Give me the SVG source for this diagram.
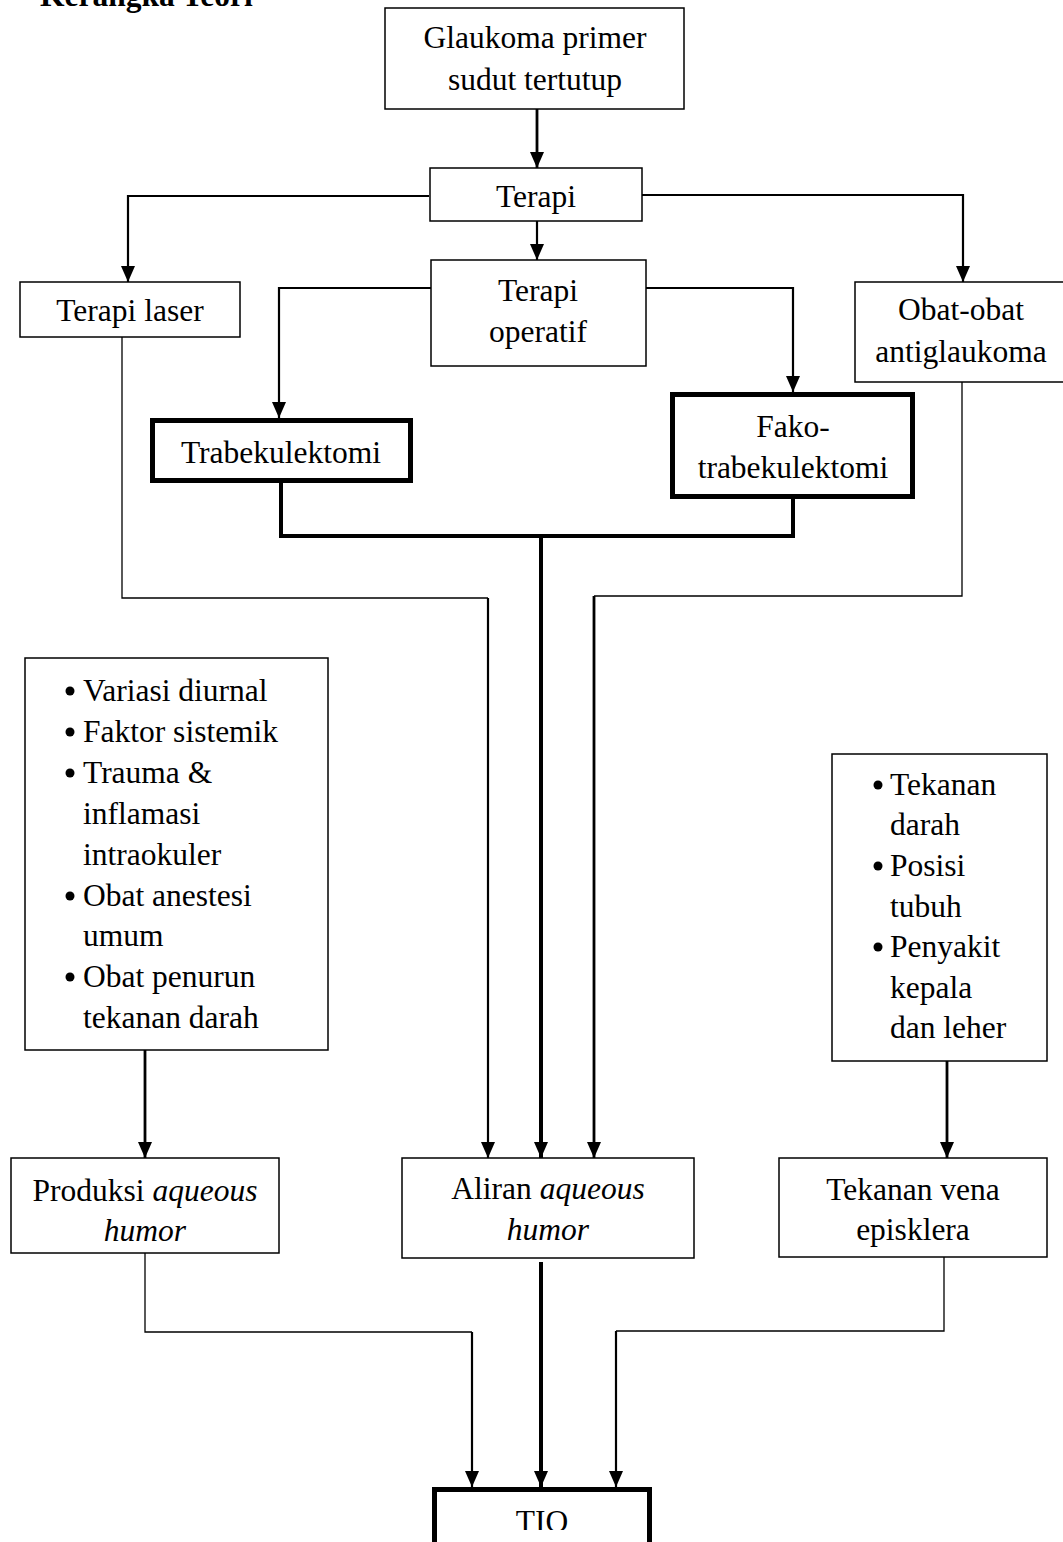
<svg xmlns="http://www.w3.org/2000/svg" width="1063" height="1542" viewBox="0 0 1063 1542">
<style>
text{font-family:"Liberation Serif","Times New Roman",serif;font-size:31.5px;fill:#000}
.c{text-anchor:middle}
.i{font-style:italic}
.box{fill:#fff;stroke:#000;stroke-width:1.5}
.thick{fill:#fff;stroke:#000;stroke-width:5}
.ln{fill:none;stroke:#000}
.w1{stroke-width:1.3}
.w2{stroke-width:2.2}
.w3{stroke-width:2.8}
.w4{stroke-width:4}
</style>
<defs>
<marker id="ah" viewBox="0 0 16 14" refX="16" refY="7" markerWidth="16" markerHeight="14" markerUnits="userSpaceOnUse" orient="auto">
<path d="M0,0 L16,7 L0,14 z" fill="#000"/>
</marker>
<clipPath id="pg"><rect x="0" y="0" width="1063" height="1530"/></clipPath>
</defs>
<rect width="1063" height="1542" fill="#fff"/>
<text x="40" y="6" style="font-weight:bold">Kerangka Teori</text>

<g id="connectors">
<path class="ln w3" d="M537,109 V168" marker-end="url(#ah)"/>
<path class="ln w2" d="M429,196 H128 V282" marker-end="url(#ah)"/>
<path class="ln w2" d="M537,221 V260" marker-end="url(#ah)"/>
<path class="ln w2" d="M642,195 H963 V282" marker-end="url(#ah)"/>
<path class="ln w2" d="M431,288 H279 V418" marker-end="url(#ah)"/>
<path class="ln w2" d="M646,288 H793 V392" marker-end="url(#ah)"/>
<path class="ln w4" d="M281,483 V536 H793 V499"/>
<path class="ln w4" d="M541,536 V1158" marker-end="url(#ah)"/>
<path class="ln w1" d="M122,337 V598 H488"/>
<path class="ln w2" d="M488,598 V1158" marker-end="url(#ah)"/>
<path class="ln w1" d="M962,382 V596 H594"/>
<path class="ln w3" d="M594,596 V1158" marker-end="url(#ah)"/>
<path class="ln w3" d="M145,1050 V1158" marker-end="url(#ah)"/>
<path class="ln w3" d="M947,1061 V1158" marker-end="url(#ah)"/>
<path class="ln w1" d="M145,1253 V1332 H472"/>
<path class="ln w2" d="M472,1332 V1487" marker-end="url(#ah)"/>
<path class="ln w4" d="M541,1262 V1487" marker-end="url(#ah)"/>
<path class="ln w1" d="M944,1257 V1331 H616"/>
<path class="ln w2" d="M616,1331 V1487" marker-end="url(#ah)"/>
</g>

<g id="glaukoma">
<rect class="box" x="385" y="8" width="299" height="101"/>
<text class="c" x="535" y="48">Glaukoma primer</text>
<text class="c" x="535" y="90">sudut tertutup</text>
</g>
<g id="terapi">
<rect class="box" x="430" y="168" width="212" height="53"/>
<text class="c" x="536" y="207">Terapi</text>
</g>
<g id="terapi-laser">
<rect class="box" x="20" y="282" width="220" height="55"/>
<text class="c" x="130" y="321">Terapi laser</text>
</g>
<g id="terapi-operatif">
<rect class="box" x="431" y="260" width="215" height="106"/>
<text class="c" x="538" y="301">Terapi</text>
<text class="c" x="538" y="342">operatif</text>
</g>
<g id="obat">
<rect class="box" x="855" y="282" width="215" height="100"/>
<text class="c" x="961" y="320">Obat-obat</text>
<text class="c" x="961" y="362">antiglaukoma</text>
</g>
<g id="trabekulektomi">
<rect class="thick" x="152.5" y="420.5" width="258" height="60"/>
<text class="c" x="281" y="463">Trabekulektomi</text>
</g>
<g id="fako">
<rect class="thick" x="672.5" y="394.5" width="240" height="102"/>
<text class="c" x="793" y="437">Fako-</text>
<text class="c" x="793" y="478">trabekulektomi</text>
</g>
<g id="faktor-produksi">
<rect class="box" x="25" y="658" width="303" height="392"/>
<g>
<circle cx="70" cy="691" r="4.5"/><text x="83" y="701">Variasi diurnal</text>
<circle cx="70" cy="732" r="4.5"/><text x="83" y="742">Faktor sistemik</text>
<circle cx="70" cy="773" r="4.5"/><text x="83" y="783">Trauma &amp;</text>
<text x="83" y="824">inflamasi</text>
<text x="83" y="865">intraokuler</text>
<circle cx="70" cy="896" r="4.5"/><text x="83" y="906">Obat anestesi</text>
<text x="83" y="946">umum</text>
<circle cx="70" cy="977" r="4.5"/><text x="83" y="987">Obat penurun</text>
<text x="83" y="1028">tekanan darah</text>
</g>
</g>
<g id="faktor-vena">
<rect class="box" x="832" y="754" width="215" height="307"/>
<circle cx="878" cy="785" r="4.5"/><text x="890" y="795">Tekanan</text>
<text x="890" y="835">darah</text>
<circle cx="878" cy="866" r="4.5"/><text x="890" y="876">Posisi</text>
<text x="890" y="917">tubuh</text>
<circle cx="878" cy="947" r="4.5"/><text x="890" y="957">Penyakit</text>
<text x="890" y="998">kepala</text>
<text x="890" y="1038">dan leher</text>
</g>
<g id="produksi">
<rect class="box" x="11" y="1158" width="268" height="95"/>
<text class="c" x="145" y="1201">Produksi <tspan class="i">aqueous</tspan></text>
<text class="c i" x="145" y="1241">humor</text>
</g>
<g id="aliran">
<rect class="box" x="402" y="1158" width="292" height="100"/>
<text class="c" x="548" y="1199">Aliran <tspan class="i">aqueous</tspan></text>
<text class="c i" x="548" y="1240">humor</text>
</g>
<g id="tekanan-vena">
<rect class="box" x="779" y="1158" width="268" height="99"/>
<text class="c" x="913" y="1200">Tekanan vena</text>
<text class="c" x="913" y="1240">episklera</text>
</g>
<g id="tio">
<rect class="thick" x="434.5" y="1489.5" width="215" height="80"/>
<text class="c" x="542" y="1532" clip-path="url(#pg)">TIO</text>
</g>
</svg>
